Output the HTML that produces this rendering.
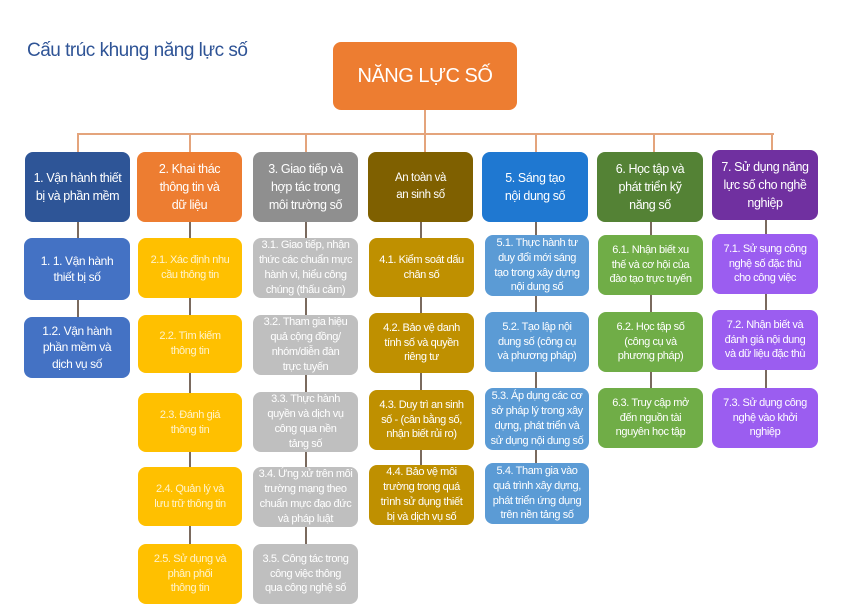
<!DOCTYPE html>
<html><head><meta charset="utf-8"><style>
body{margin:0;width:852px;height:614px;background:#fff;position:relative;overflow:hidden;font-family:"Liberation Sans","DejaVu Sans",sans-serif}
.b{position:absolute;border-radius:8px;color:#fff;display:flex;align-items:center;justify-content:center;text-align:center;box-sizing:border-box;padding:0 1px;line-height:1.3;white-space:nowrap}
.h{font-size:12.5px;letter-spacing:-0.4px;line-height:1.45}
.c{font-size:11px;line-height:1.35;letter-spacing:-0.4px}
.l{position:absolute;background:#7a6a5e}
.o{position:absolute;background:#e4a47c}
</style></head><body>
<div style="position:absolute;left:27px;top:40px;font-size:19px;color:#2f5496;letter-spacing:-0.5px">Cấu trúc khung năng lực số</div>
<div class="b" style="left:333px;top:42px;width:184px;height:68px;background:#ed7d31;font-size:20px;letter-spacing:-0.5px">NĂNG LỰC SỐ</div>
<div class="o" style="left:424px;top:110px;width:2px;height:25px"></div>
<div class="o" style="left:77px;top:133px;width:697px;height:2px"></div>
<div class="o" style="left:77px;top:133px;width:2px;height:20px"></div>
<div class="o" style="left:189px;top:133px;width:2px;height:20px"></div>
<div class="o" style="left:305px;top:133px;width:2px;height:20px"></div>
<div class="o" style="left:424px;top:133px;width:2px;height:20px"></div>
<div class="o" style="left:535px;top:133px;width:2px;height:20px"></div>
<div class="o" style="left:653px;top:133px;width:2px;height:20px"></div>
<div class="o" style="left:771px;top:133px;width:2px;height:20px"></div>

<div class="b h" style="left:25px;top:152px;width:105px;height:70px;background:#2e5597">1. Vận hành thiết<br>bị và phần mềm</div>
<div class="b h" style="left:137px;top:152px;width:105px;height:70px;background:#ed7d31">2. Khai thác<br>thông tin và<br>dữ liệu</div>
<div class="b h" style="left:253px;top:152px;width:105px;height:70px;background:#8f8f8f">3. Giao tiếp và<br>hợp tác trong<br>môi trường số</div>
<div class="b h" style="left:368px;top:152px;width:105px;height:70px;background:#7f6000;font-size:11.5px">An toàn và<br>an sinh số</div>
<div class="b h" style="left:482px;top:152px;width:106px;height:70px;background:#1f78d1">5. Sáng tạo<br>nội dung số</div>
<div class="b h" style="left:597px;top:152px;width:106px;height:70px;background:#548235">6. Học tập và<br>phát triển kỹ<br>năng số</div>
<div class="b h" style="left:712px;top:150px;width:106px;height:70px;background:#7030a0">7. Sử dụng năng<br>lực số cho nghề<br>nghiệp</div>

<div class="l" style="left:77px;top:222px;width:2px;height:95px"></div>
<div class="l" style="left:189px;top:222px;width:2px;height:322px"></div>
<div class="l" style="left:305px;top:222px;width:2px;height:322px"></div>
<div class="l" style="left:420px;top:222px;width:2px;height:243px"></div>
<div class="l" style="left:535px;top:222px;width:2px;height:241px"></div>
<div class="l" style="left:650px;top:222px;width:2px;height:166px"></div>
<div class="l" style="left:765px;top:220px;width:2px;height:168px"></div>

<div class="b c" style="left:24px;top:238px;width:106px;height:62px;background:#4472c4;font-size:12px">1. 1. Vận hành<br>thiết bị số</div>
<div class="b c" style="left:24px;top:317px;width:106px;height:61px;background:#4472c4;font-size:12px">1.2. Vận hành<br>phần mềm và<br>dịch vụ số</div>

<div class="b c" style="left:138px;top:238px;width:104px;height:60px;background:#ffc000;color:#fff3cc">2.1. Xác định nhu<br>cầu thông tin</div>
<div class="b c" style="left:138px;top:315px;width:104px;height:58px;background:#ffc000;color:#fff3cc">2.2. Tìm kiếm<br>thông tin</div>
<div class="b c" style="left:138px;top:393px;width:104px;height:59px;background:#ffc000;color:#fff3cc">2.3. Đánh giá<br>thông tin</div>
<div class="b c" style="left:138px;top:467px;width:104px;height:59px;background:#ffc000;color:#fff3cc">2.4. Quản lý và<br>lưu trữ thông tin</div>
<div class="b c" style="left:138px;top:544px;width:104px;height:60px;background:#ffc000;color:#fff3cc">2.5. Sử dụng và<br>phân phối<br>thông tin</div>

<div class="b c" style="left:253px;top:238px;width:105px;height:60px;background:#bfbfbf">3.1. Giao tiếp, nhận<br>thức các chuẩn mực<br>hành vi, hiểu công<br>chúng (thấu cảm)</div>
<div class="b c" style="left:253px;top:315px;width:105px;height:60px;background:#bfbfbf">3.2. Tham gia hiệu<br>quả cộng đồng/<br>nhóm/diễn đàn<br>trực tuyến</div>
<div class="b c" style="left:253px;top:392px;width:105px;height:60px;background:#bfbfbf">3.3. Thực hành<br>quyền và dịch vụ<br>công qua nền<br>tảng số</div>
<div class="b c" style="left:253px;top:467px;width:105px;height:60px;background:#bfbfbf">3.4. Ứng xử trên môi<br>trường mạng theo<br>chuẩn mực đạo đức<br>và pháp luật</div>
<div class="b c" style="left:253px;top:544px;width:105px;height:60px;background:#bfbfbf">3.5. Công tác trong<br>công việc thông<br>qua công nghệ số</div>

<div class="b c" style="left:369px;top:238px;width:105px;height:59px;background:#bf9000">4.1. Kiểm soát dấu<br>chân số</div>
<div class="b c" style="left:369px;top:313px;width:105px;height:60px;background:#bf9000">4.2. Bảo vệ danh<br>tính số và quyền<br>riêng tư</div>
<div class="b c" style="left:369px;top:390px;width:105px;height:60px;background:#bf9000">4.3. Duy trì an sinh<br>số - (cân bằng số,<br>nhận biết rủi ro)</div>
<div class="b c" style="left:369px;top:465px;width:105px;height:60px;background:#bf9000">4.4. Bảo vệ môi<br>trường trong quá<br>trình sử dụng thiết<br>bị và dịch vụ số</div>

<div class="b c" style="left:485px;top:235px;width:104px;height:61px;background:#5b9bd5">5.1. Thực hành tư<br>duy đổi mới sáng<br>tạo trong xây dựng<br>nội dung số</div>
<div class="b c" style="left:485px;top:312px;width:104px;height:60px;background:#5b9bd5">5.2. Tạo lập nội<br>dung số (công cụ<br>và phương pháp)</div>
<div class="b c" style="left:485px;top:388px;width:104px;height:62px;background:#5b9bd5">5.3. Áp dụng các cơ<br>sở pháp lý trong xây<br>dựng, phát triển và<br>sử dụng nội dung số</div>
<div class="b c" style="left:485px;top:463px;width:104px;height:61px;background:#5b9bd5">5.4. Tham gia vào<br>quá trình xây dựng,<br>phát triển ứng dụng<br>trên nền tảng số</div>

<div class="b c" style="left:598px;top:235px;width:105px;height:60px;background:#70ad47">6.1. Nhận biết xu<br>thế và cơ hội của<br>đào tạo trực tuyến</div>
<div class="b c" style="left:598px;top:312px;width:105px;height:60px;background:#70ad47">6.2. Học tập số<br>(công cụ và<br>phương pháp)</div>
<div class="b c" style="left:598px;top:388px;width:105px;height:60px;background:#70ad47">6.3. Truy cập mở<br>đến nguồn tài<br>nguyên học tập</div>

<div class="b c" style="left:712px;top:234px;width:106px;height:60px;background:#9b5df0">7.1. Sử sụng công<br>nghệ số đặc thù<br>cho công việc</div>
<div class="b c" style="left:712px;top:310px;width:106px;height:60px;background:#9b5df0">7.2. Nhận biết và<br>đánh giá nội dung<br>và dữ liệu đặc thù</div>
<div class="b c" style="left:712px;top:388px;width:106px;height:60px;background:#9b5df0">7.3. Sử dụng công<br>nghệ vào khởi<br>nghiệp</div>
</body></html>
